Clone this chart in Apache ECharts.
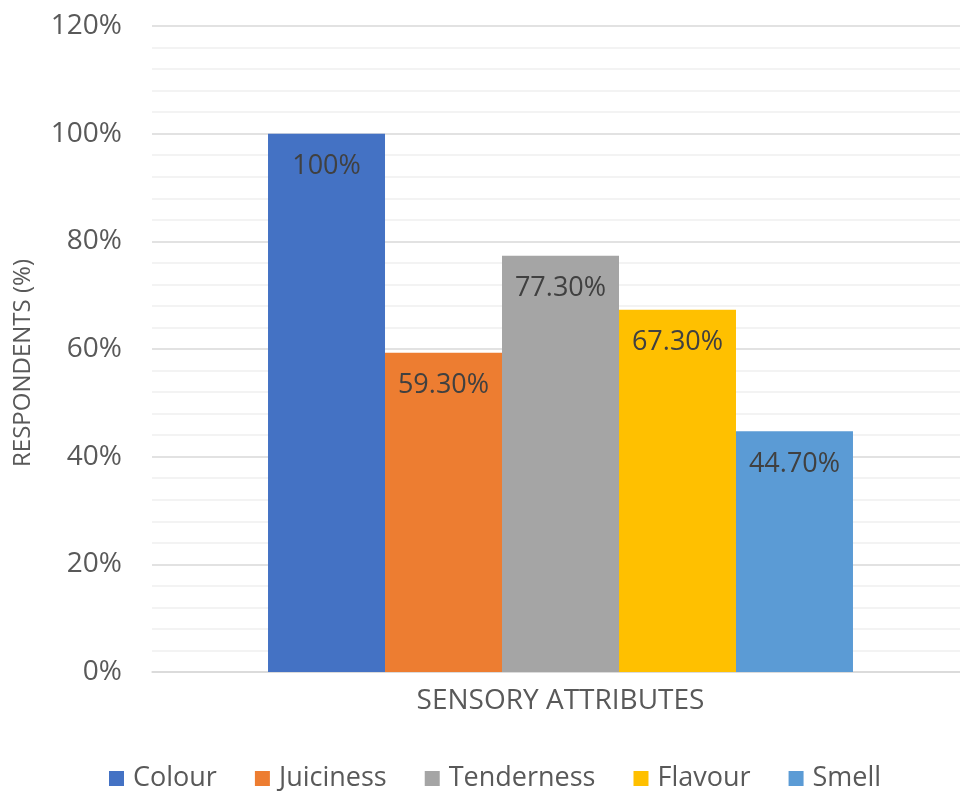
<!DOCTYPE html>
<html>
<head>
    <meta charset="utf-8">
    <title>Sensory Attributes</title>
    <script src="https://cdn.jsdelivr.net/npm/echarts@6/dist/echarts.min.js"></script>
    <style>
        html, body { margin: 0; padding: 0; background: #fff; }
        #main { width: 960px; height: 794px; }
    </style>
</head>
<body>
    <div id="main"></div>
    <script>
        var categories = ['SENSORY ATTRIBUTES'];
        var seriesNames = ['Colour', 'Juiciness', 'Tenderness', 'Flavour', 'Smell'];
        var seriesValues = [100, 59.3, 77.3, 67.3, 44.7];
        var seriesColors = ['#4472c4', '#ed7d31', '#a5a5a5', '#ffc000', '#5b9bd5'];

        var font = '"Open Sans", "Liberation Sans", sans-serif';
        var myChart = echarts.init(document.getElementById('main'));

        var series = [];
        for (var i = 0; i < seriesNames.length; i++) {
            series.push({
                name: seriesNames[i],
                type: 'bar',
                barGap: '0%',
                barCategoryGap: '28.4%',
                itemStyle: { color: seriesColors[i] },
                label: {
                    show: true,
                    position: 'insideTop',
                    distance: 19,
                    color: '#404040',
                    fontFamily: font,
                    fontSize: 27,
                    formatter: function (p) {
                        return p.value === 100 ? '100%' : p.value.toFixed(2) + '%';
                    }
                },
                data: [seriesValues[i]]
            });
        }

        var option = {
            animation: false,
            textStyle: { fontFamily: font },
            // grid runs past the right edge, as in the original
            grid: { left: 152, top: 26, width: 817, height: 646, outerBoundsMode: 'none', containLabel: false },
            legend: {
                top: 760,
                left: 104,
                itemWidth: 15,
                itemHeight: 15,
                itemGap: 38,
                icon: 'rect',
                textStyle: { fontSize: 27, color: '#595959', fontFamily: font, padding: [0, 0, 0, 4] },
                data: seriesNames
            },
            xAxis: {
                type: 'category',
                data: categories,
                axisLine: { lineStyle: { color: '#d9d9d9', width: 1.5 } },
                axisTick: { show: false },
                axisLabel: { color: '#595959', fontSize: 28, margin: 15, fontFamily: font }
            },
            yAxis: {
                type: 'value',
                min: 0,
                max: 120,
                interval: 20,
                name: 'RESPONDENTS (%)',
                nameLocation: 'middle',
                nameGap: 117,
                nameRotate: 90,
                nameTextStyle: { color: '#595959', fontSize: 24, fontFamily: font, padding: [0, 28, 0, 0] },
                axisLine: { show: false },
                axisTick: { show: false },
                axisLabel: { color: '#595959', fontSize: 28, margin: 30, fontFamily: font, formatter: '{value}%' },
                splitLine: { lineStyle: { color: '#d9d9d9', width: 1.5 } },
                minorTick: { show: false, splitNumber: 5 },
                minorSplitLine: { show: true, lineStyle: { color: '#f0f0f0', width: 1.5 } }
            },
            series: series
        };
        myChart.setOption(option);
    </script>
</body>
</html>
